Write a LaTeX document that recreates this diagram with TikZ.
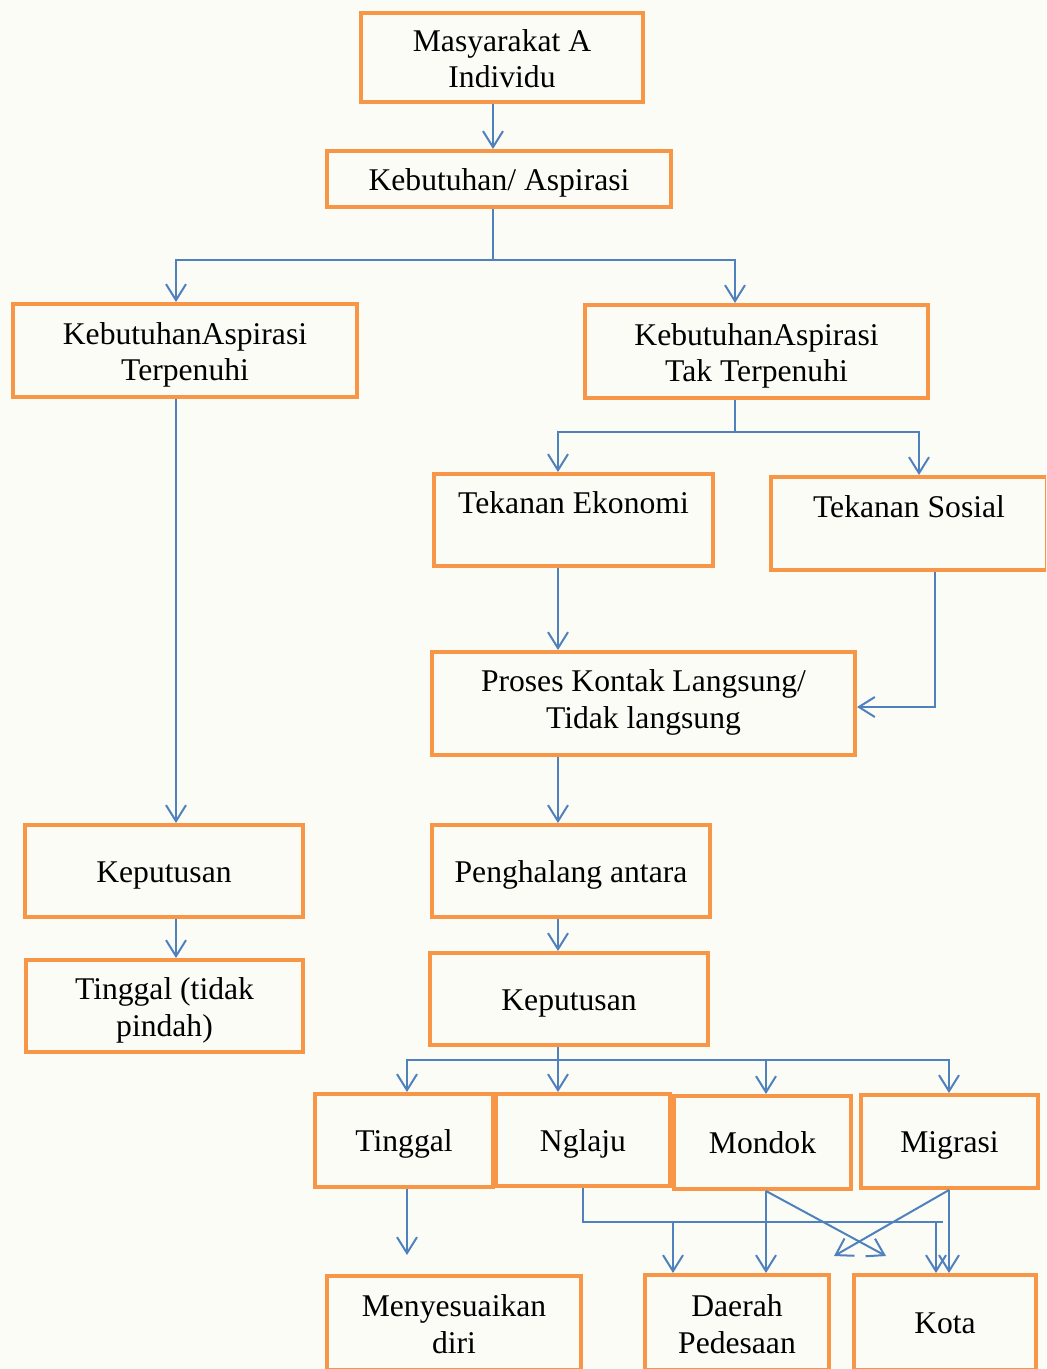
\documentclass[tikz,border=0pt]{standalone}
\usepackage{fontspec}
\setmainfont{Liberation Serif}
\usetikzlibrary{arrows.meta}
\definecolor{boxorange}{RGB}{247,150,70}
\definecolor{linkblue}{RGB}{79,129,189}
\definecolor{paper}{RGB}{252,252,247}

\begin{document}
\begin{tikzpicture}[x=0.02cm, y=-0.02cm, font=\fontsize{18}{21}\selectfont]
	
	\clip (0,0) rectangle (1046,1369);
	\fill[paper] (0,0) rectangle (1046,1369);
	
	\tikzstyle{link}=[draw=linkblue, line width=0.04cm]
	\tikzstyle{arr}=[link, -{Straight Barb[length=0.32cm, width=0.4cm]}]
	\tikzstyle{oneline}=[execute at begin node={\rule[-6.3pt]{0pt}{25.4pt}}, execute at end node={\strut}]
	\tikzstyle{twoline}=[text height=41pt, execute at end node={\strut}]
	
	% columns of the connectors
	\foreach \n/\x in {topx/493, leftx/176, takx/735, spine/558, sosx/919, sosdrop/935,
		tglx/407, monx/766, migx/949, desax/673, kotax/936}
		\coordinate (\n) at (\x,0);
	
	\begin{scope}[every node/.style={draw=boxorange, line width=0.08cm, align=center, inner sep=0pt}]
		\node[twoline, minimum width=5.64cm, minimum height=1.78cm] (masy) at (502,57.5) {Masyarakat A\\Individu};
		\node[oneline, minimum width=6.88cm, minimum height=1.12cm] (kebut) at (499,179) {Kebutuhan/ Aspirasi};
		\node[twoline, minimum width=6.88cm, minimum height=1.86cm] (penuh) at (185,350.5) {KebutuhanAspirasi\\Terpenuhi};
		\node[twoline, minimum width=6.86cm, minimum height=1.86cm] (takpenuh) at (756.5,351.5) {KebutuhanAspirasi\\Tak Terpenuhi};
		\node[twoline, minimum width=5.58cm, minimum height=1.84cm] (ekonomi) at (573.5,520) {Tekanan Ekonomi\\~};
		\node[twoline, minimum width=5.52cm, minimum height=1.86cm] (sosial) at (909,523.5) {Tekanan Sosial\\~};
		\node[twoline, text height=35pt, minimum width=8.46cm, minimum height=2.06cm] (proses) at (643.5,703.5) {Proses Kontak Langsung/\\Tidak langsung};
		\node[oneline, minimum width=5.56cm, minimum height=1.84cm] (kepkiri) at (164,871) {Keputusan};
		\node[twoline, minimum width=5.54cm, minimum height=1.84cm] (tetap) at (164.5,1006) {Tinggal (tidak\\pindah)};
		\node[oneline, minimum width=5.56cm, minimum height=1.84cm] (halang) at (571,871) {Penghalang antara};
		\node[oneline, minimum width=5.56cm, minimum height=1.84cm] (kepkanan) at (569,999) {Keputusan};
		\node[oneline, minimum width=3.56cm, minimum height=1.86cm] (tinggal) at (404,1140.5) {Tinggal};
		\node[oneline, minimum width=3.48cm, minimum height=1.84cm] (nglaju) at (583,1140) {Nglaju};
		\node[oneline, minimum width=3.54cm, minimum height=1.86cm] (mondok) at (762.5,1142.5) {Mondok};
		\node[oneline, minimum width=3.54cm, minimum height=1.86cm] (migrasi) at (949.5,1141.5) {Migrasi};
		\node[twoline, minimum width=5.08cm, minimum height=1.88cm] (sesuai) at (454,1323) {Menyesuaikan\\diri};
		\node[twoline, minimum width=3.68cm, minimum height=1.90cm] (desa) at (737,1322.5) {Daerah\\Pedesaan};
		\node[oneline, minimum width=3.64cm, minimum height=1.90cm] (kota) at (945,1322.5) {Kota};
	\end{scope}
	
	\coordinate (pisah1) at (493,260);
	\coordinate (pisah2) at (735,432);
	\coordinate (pisah3) at (558,1060);
	\coordinate (jalur) at (943,1222);
	\coordinate (ujungkiri) at (834,1256);
	\coordinate (ujungkanan) at (886,1256);
	
	\draw[arr] (masy.south -| topx) -- (kebut.north -| topx);
	\draw[link] (kebut.south -| pisah1) -- (pisah1);
	\draw[arr] (pisah1) -| (penuh.north -| leftx);
	\draw[arr] (pisah1) -| (takpenuh.north -| takx);
	
	\draw[arr] (penuh.south -| leftx) -- (kepkiri.north -| leftx);
	\draw[arr] (kepkiri.south -| leftx) -- (tetap.north -| leftx);
	
	\draw[link] (takpenuh.south -| pisah2) -- (pisah2);
	\draw[arr] (pisah2) -| (ekonomi.north -| spine);
	\draw[arr] (pisah2) -| (sosial.north -| sosx);
	\draw[arr] (ekonomi.south -| spine) -- (proses.north -| spine);
	\draw[arr] (sosial.south -| sosdrop) |- ([yshift=-0.07cm]proses.east);
	\draw[arr] (proses.south -| spine) -- (halang.north -| spine);
	\draw[arr] (halang.south -| spine) -- (kepkanan.north -| spine);
	
	\draw[link] (kepkanan.south -| pisah3) -- (pisah3);
	\draw[arr] (pisah3) -| (tinggal.north -| tglx);
	\draw[arr] (pisah3) -- (nglaju.north -| spine);
	\draw[arr] (pisah3) -| (mondok.north -| monx);
	\draw[arr] (pisah3) -| (migrasi.north -| migx);
	
	\draw[arr, shorten >=0.38cm] (tinggal.south -| tglx) -- (sesuai.north -| tglx);
	\draw[link] (nglaju.south) |- (jalur);
	\draw[arr] (jalur -| desax) -- (desa.north -| desax);
	\draw[arr] (jalur -| kotax) -- (kota.north -| kotax);
	\draw[arr] (mondok.south -| monx) -- (desa.north -| monx);
	\draw[arr] (mondok.south -| monx) -- (ujungkanan);
	\draw[arr] (migrasi.south -| migx) -- (kota.north -| migx);
	\draw[arr] (migrasi.south -| migx) -- (ujungkiri);
	
\end{tikzpicture}
\end{document}
